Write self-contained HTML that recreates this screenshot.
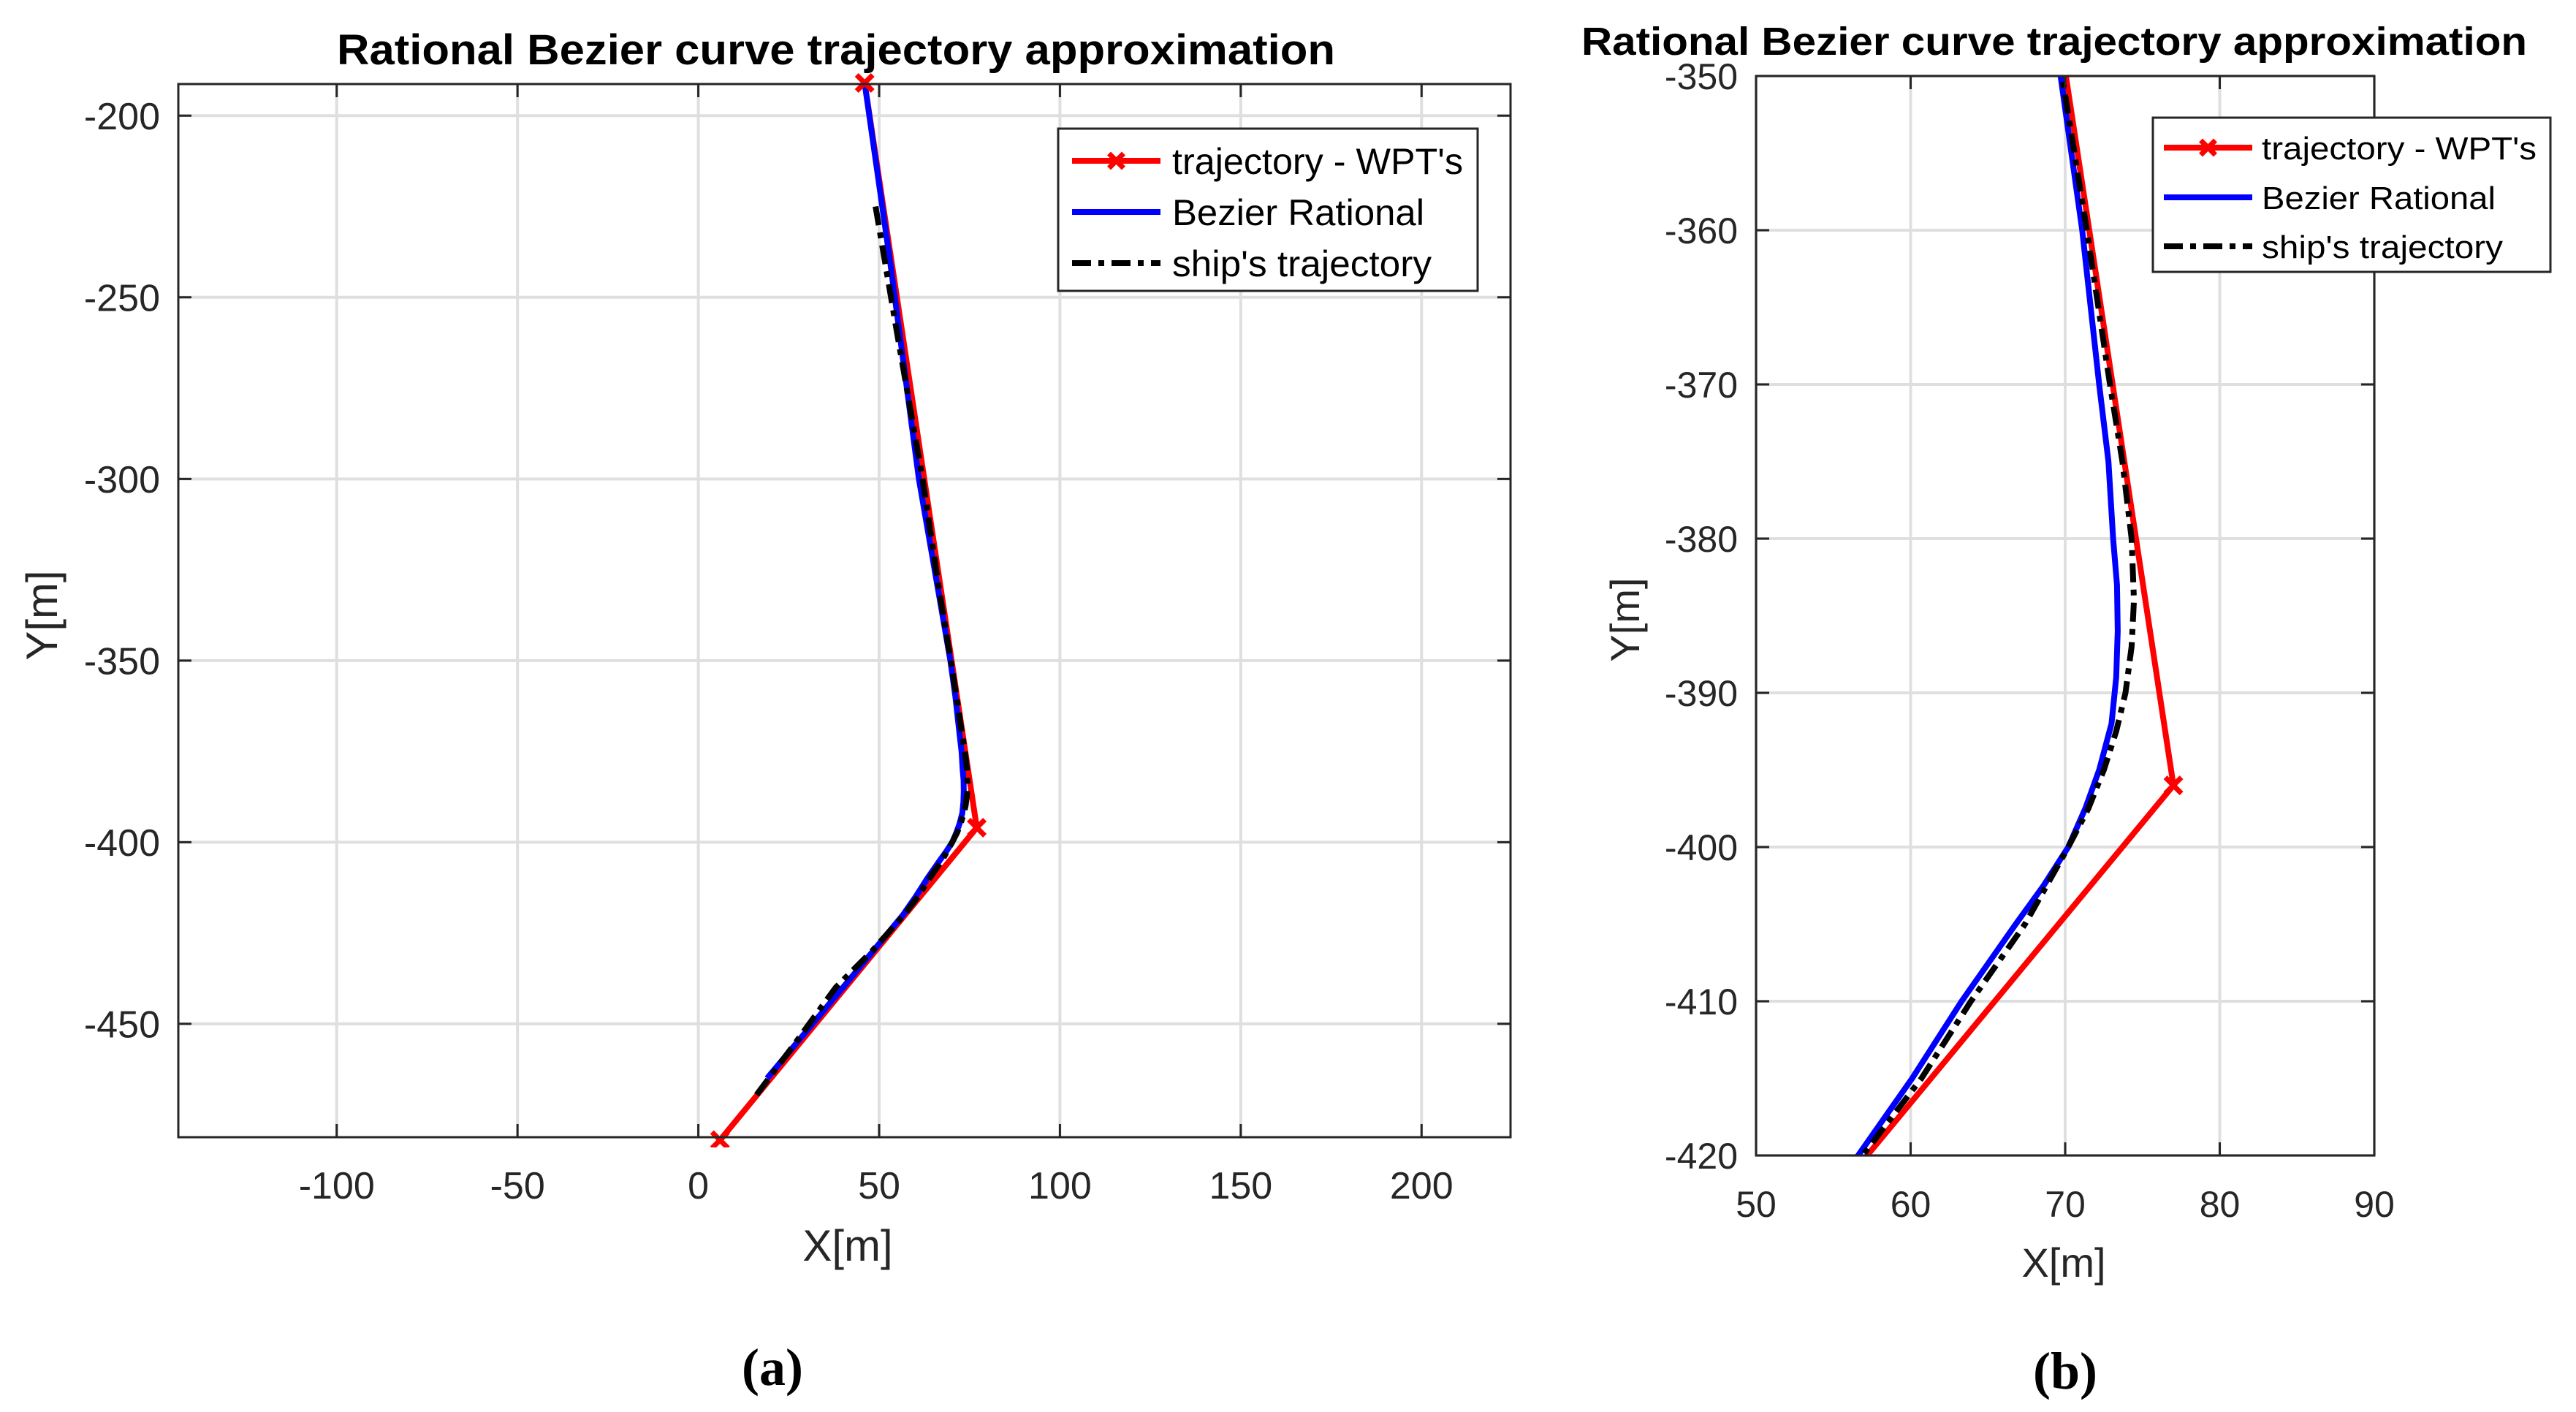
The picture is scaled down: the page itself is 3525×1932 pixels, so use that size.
<!DOCTYPE html>
<html><head><meta charset="utf-8"><style>
html,body{margin:0;padding:0;background:#fff;overflow:hidden;width:3525px;height:1932px;}
svg{display:block;font-family:"Liberation Sans",sans-serif;}
</style></head><body>
<svg id="fig" width="3525" height="1932" viewBox="0 0 3525 1932" xmlns="http://www.w3.org/2000/svg">
<defs>
<clipPath id="clipA"><rect x="230" y="100" width="1850" height="1470"/></clipPath>
<clipPath id="clipB"><rect x="2403" y="104" width="846" height="1477"/></clipPath>
</defs>
<g id="panelA"></g>
<g id="panelB"></g>
</svg>
<script>
// Data (shared by both panels)
const wptX = [46, 77, 6];
const wptY = [-191, -396, -482];
const bezX = [46, 53, 61, 69.7, 71.1, 72.2, 72.8, 73.1, 73.35, 73.4, 73.3, 73.0, 72.2, 71.3, 70.2, 68.6, 66.8, 63.3, 60.1, 56.6, 40, 19];
const bezY = [-191, -240, -300, -350, -360, -370, -375, -380, -383, -386, -389, -392, -395, -397.5, -400, -402.5, -405, -410, -415, -420, -440, -465];
const shipX = [49, 55, 62, 66.5, 69.8, 71.4, 72.9, 73.7, 74.3, 74.45, 74.3, 73.9, 73.3, 72.5, 71.5, 70.2, 67.4, 63.9, 60.7, 56.9, 48, 38, 27, 15];
const shipY = [-225, -260, -300, -330, -350, -360, -370, -375, -380, -384, -387, -390, -392.5, -395, -397.5, -400, -405, -410, -415, -420, -430, -440, -455, -471];
const aXTicks = [-100, -50, 0, 50, 100, 150, 200];
const aYTicks = [-200, -250, -300, -350, -400, -450];
const bXTicks = [50, 60, 70, 80, 90];
const bYTicks = [-350, -360, -370, -380, -390, -400, -410, -420];
const legendLabels = ["trajectory - WPT's", "Bezier Rational", "ship's trajectory"];

const NS = "http://www.w3.org/2000/svg";
function mk(tag, attrs, parent) {
  const e = document.createElementNS(NS, tag);
  for (const k in attrs) e.setAttribute(k, attrs[k]);
  parent.appendChild(e);
  return e;
}

function drawPanel(g, cfg) {
  const sx = v => cfg.L + (v - cfg.x0) / (cfg.x1 - cfg.x0) * (cfg.R - cfg.L);
  const sy = v => cfg.T + (cfg.y0 - v) / (cfg.y0 - cfg.y1) * (cfg.B - cfg.T);
  cfg.xt.forEach(t => {
    const l = mk('line', {x1: sx(t), x2: sx(t), y1: cfg.T, y2: cfg.B, stroke: '#dfdfdf', 'stroke-width': 4}, g);
    
    
  });
  cfg.yt.forEach(t => {
    const l = mk('line', {x1: cfg.L, x2: cfg.R, y1: sy(t), y2: sy(t), stroke: '#dfdfdf', 'stroke-width': 4}, g);
    
    
  });
  const sg = mk('g', {'clip-path': 'url(#' + cfg.clip + ')'}, g);
  function path(xs, ys, attrs, name) {
    let d = '';
    xs.forEach((x, i) => { d += (i ? 'L' : 'M') + sx(x).toFixed(1) + ',' + sy(ys[i]).toFixed(1); });
    const p = mk('path', Object.assign({d: d, fill: 'none', 'stroke-linejoin': 'round'}, attrs), sg);
    
    
  }
  path(wptX, wptY, {stroke: '#ff0000', 'stroke-width': 8}, 'wpt-trajectory-line');
  path(bezX, bezY, {stroke: '#0000ff', 'stroke-width': 8}, 'bezier-rational-line');
  path(shipX, shipY, {stroke: '#000000', 'stroke-width': 8, 'stroke-dasharray': '26 10 8 10'}, 'ship-trajectory-line');
  wptX.forEach((x, i) => {
    const cx = sx(x), cy = sy(wptY[i]), s = 11;
    const m = mk('path', {d: `M${cx-s},${cy-s}L${cx+s},${cy+s}M${cx-s},${cy+s}L${cx+s},${cy-s}`, stroke: '#ff0000', 'stroke-width': 7}, sg);
    
    
  });
  const box = mk('rect', {x: cfg.L, y: cfg.T, width: cfg.R - cfg.L, height: cfg.B - cfg.T, fill: 'none', stroke: '#262626', 'stroke-width': 3}, g);
  
  
  const tl = 18;
  cfg.xt.forEach(t => {
    mk('line', {x1: sx(t), x2: sx(t), y1: cfg.B, y2: cfg.B - tl, stroke: '#262626', 'stroke-width': 3}, g);
    mk('line', {x1: sx(t), x2: sx(t), y1: cfg.T, y2: cfg.T + tl, stroke: '#262626', 'stroke-width': 3}, g);
    const tx = mk('text', {x: sx(t), y: cfg.xly, 'text-anchor': 'middle', 'font-size': cfg.fs, fill: '#262626'}, g);
    tx.textContent = t;
    
    
  });
  cfg.yt.forEach(t => {
    mk('line', {x1: cfg.L, x2: cfg.L + tl, y1: sy(t), y2: sy(t), stroke: '#262626', 'stroke-width': 3}, g);
    mk('line', {x1: cfg.R, x2: cfg.R - tl, y1: sy(t), y2: sy(t), stroke: '#262626', 'stroke-width': 3}, g);
    const tx = mk('text', {x: cfg.ylx, y: sy(t) + cfg.fs * 0.36, 'text-anchor': 'end', 'font-size': cfg.fs, fill: '#262626'}, g);
    tx.textContent = t;
    
    
  });
  const xl = mk('text', {x: cfg.xlabX, y: cfg.xlabY, 'text-anchor': 'middle', 'font-size': cfg.lfs, fill: '#262626'}, g);
  xl.textContent = 'X[m]';
  
  
  const yl = mk('text', {x: 0, y: 0, 'text-anchor': 'middle', 'font-size': cfg.lfs, fill: '#262626', transform: `translate(${cfg.ylabX},${cfg.ylabY}) rotate(-90)`}, g);
  yl.textContent = 'Y[m]';
  
  
  const ti = mk('text', {x: cfg.titleX, y: cfg.titleY, 'text-anchor': 'middle', 'font-size': cfg.tfs, 'font-weight': 'bold', fill: '#000', textLength: cfg.titleW, lengthAdjust: 'spacingAndGlyphs'}, g);
  ti.textContent = 'Rational Bezier curve trajectory approximation';
  
  
  const lg = mk('g', {}, g);
  
  
  mk('rect', {x: cfg.lgx, y: cfg.lgy, width: cfg.lgw, height: cfg.lgh, fill: '#fff', stroke: '#262626', 'stroke-width': 3}, lg);
  const cols = ['#ff0000', '#0000ff', '#000000'];
  legendLabels.forEach((lab, i) => {
    const y = cfg.lgEntryY[i];
    const ln = mk('line', {x1: cfg.lsx1, x2: cfg.lsx2, y1: y, y2: y, stroke: cols[i], 'stroke-width': 8}, lg);
    if (i === 2) ln.setAttribute('stroke-dasharray', '26 10 8 10');
    
    
    if (i === 0) {
      const c = (cfg.lsx1 + cfg.lsx2) / 2, s = 10;
      mk('path', {d: `M${c-s},${y-s}L${c+s},${y+s}M${c-s},${y+s}L${c+s},${y-s}`, stroke: '#ff0000', 'stroke-width': 7}, lg);
    }
    const t = mk('text', {x: cfg.ltx, y: y + cfg.lgfs * 0.36, 'font-size': cfg.lgfs, fill: '#000', textLength: cfg.lgTL[i], lengthAdjust: 'spacingAndGlyphs'}, lg);
    t.textContent = lab;
    
    
  });
  const cp = mk('text', {x: cfg.capX, y: cfg.capY, 'text-anchor': 'middle', 'font-size': 72, 'font-weight': 'bold', 'font-family': 'Liberation Serif, serif', fill: '#000'}, g);
  cp.textContent = cfg.cap;
  
  
}

drawPanel(document.getElementById('panelA'), {
  L: 244, R: 2067, T: 115, B: 1556, x0: -143.8, x1: 224.6, y0: -191.3, y1: -481.2,
  xt: aXTicks, yt: aYTicks, clip: 'clipA', fs: 52, lfs: 60, xly: 1640, ylx: 219,
  xlabX: 1160, xlabY: 1725, ylabX: 78, ylabY: 842,
  titleX: 1144, titleY: 88, titleW: 1366, tfs: 58,
  lgx: 1448, lgy: 176, lgw: 574, lgh: 222, lgEntryY: [220, 290, 360], lsx1: 1467, lsx2: 1588, ltx: 1604, lgfs: 50,
  lgTL: [398, 345, 355],
  capX: 1057, capY: 1895, cap: '(a)'
});
drawPanel(document.getElementById('panelB'), {
  L: 2403, R: 3249, T: 104, B: 1581, x0: 50, x1: 90, y0: -350, y1: -420,
  xt: bXTicks, yt: bYTicks, clip: 'clipB', fs: 50, lfs: 56, xly: 1665, ylx: 2378,
  xlabX: 2824, xlabY: 1747, ylabX: 2243, ylabY: 848,
  titleX: 2811, titleY: 75, titleW: 1294, tfs: 54,
  lgx: 2946, lgy: 161, lgw: 544, lgh: 211, lgEntryY: [202, 270, 337], lsx1: 2961, lsx2: 3082, ltx: 3095, lgfs: 44,
  lgTL: [376, 320, 330],
  capX: 2826, capY: 1900, cap: '(b)'
});
</script>
</body></html>
